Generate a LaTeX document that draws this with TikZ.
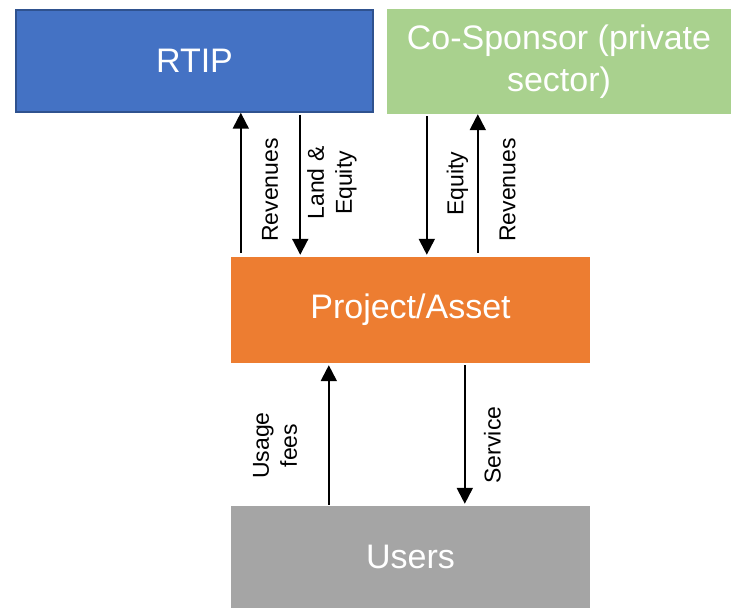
\documentclass[tikz,border=0pt]{standalone}
\usepackage{fontspec}
\setmainfont{Liberation Sans}
\usepackage{tikz}
\usetikzlibrary{arrows.meta, shapes, calc}

\definecolor{rtipBlue}{HTML}{4472C4}
\definecolor{rtipEdge}{HTML}{2F528F}
\definecolor{cospGreen}{HTML}{A9D18E}
\definecolor{projOrange}{HTML}{ED7D31}
\definecolor{userGray}{HTML}{A5A5A5}

\begin{document}
\begin{tikzpicture}[x=1pt, y=1pt]

    % Frame
    \useasboundingbox (0,0) rectangle (731,608);

    % Boxes
    \tikzset{box/.style={shape = rectangle, inner sep = 0pt, text = white, align = center,
        font = \fontsize{34}{42}\selectfont}}
    \tikzset{bRtip/.style={box, fill = rtipBlue, draw = rtipEdge, line width = 1.5pt,
        minimum width = 357pt, minimum height = 102pt}}
    \tikzset{bCosp/.style={box, fill = cospGreen, minimum width = 344pt, minimum height = 105pt}}
    \tikzset{bProj/.style={box, fill = projOrange, minimum width = 359pt, minimum height = 106pt}}
    \tikzset{bUser/.style={box, fill = userGray, minimum width = 359pt, minimum height = 102pt}}

    % Flows and their labels
    \tikzset{flow/.style={line width = 2pt, -{Triangle[length=16pt, width=16pt]}}}
    \tikzset{lbl/.style={rotate = 90, inner sep = 0pt, align = center,
        font = \fontsize{23}{28}\selectfont}}

    % Nodes
    \node (rtip) [bRtip] at (194.5, 547) {RTIP};
    \node (cosp) [bCosp] at (559, 546.5) {Co-Sponsor (private\\sector)};
    \node (proj) [bProj] at (410.5, 298) {Project/Asset};
    \node (users) [bUser] at (410.5, 51) {Users};

    % Flow anchors
    \coordinate (revL) at ($(proj.north west)+(10,4)$);
    \coordinate (land) at ($(rtip.south west)+(285,-2)$);
    \coordinate (eqty) at ($(cosp.south west)+(40,-2)$);
    \coordinate (revR) at ($(proj.north west)+(247,4)$);
    \coordinate (fees) at ($(users.north west)+(98,1)$);
    \coordinate (serv) at ($(proj.south west)+(234,-2)$);

    % Flows
    \draw[flow] (revL) -- (revL |- rtip.south);
    \draw[flow] (land) -- ($(land |- proj.north)+(0,2)$);
    \draw[flow] (eqty) -- ($(eqty |- proj.north)+(0,2)$);
    \draw[flow] (revR) -- (revR |- cosp.south);
    \draw[flow] (fees) -- ($(fees |- proj.south)+(0,-2)$);
    \draw[flow] (serv) -- ($(serv |- users.north)+(0,2)$);

    % Labels
    \node (lRevL) [lbl] at (270, 418) {Revenues};
    \node (lLand) [lbl] at (332, 425) {Land \&\\Equity};
    \node (lEqty) [lbl] at (457.5, 424.5) {Equity};
    \node (lRevR) [lbl] at (507.5, 418) {Revenues};
    \node (lFees) [lbl] at (275, 162.5) {Usage\\fees};
    \node (lServ) [lbl] at (492.5, 163) {Service};

\end{tikzpicture}
\end{document}
